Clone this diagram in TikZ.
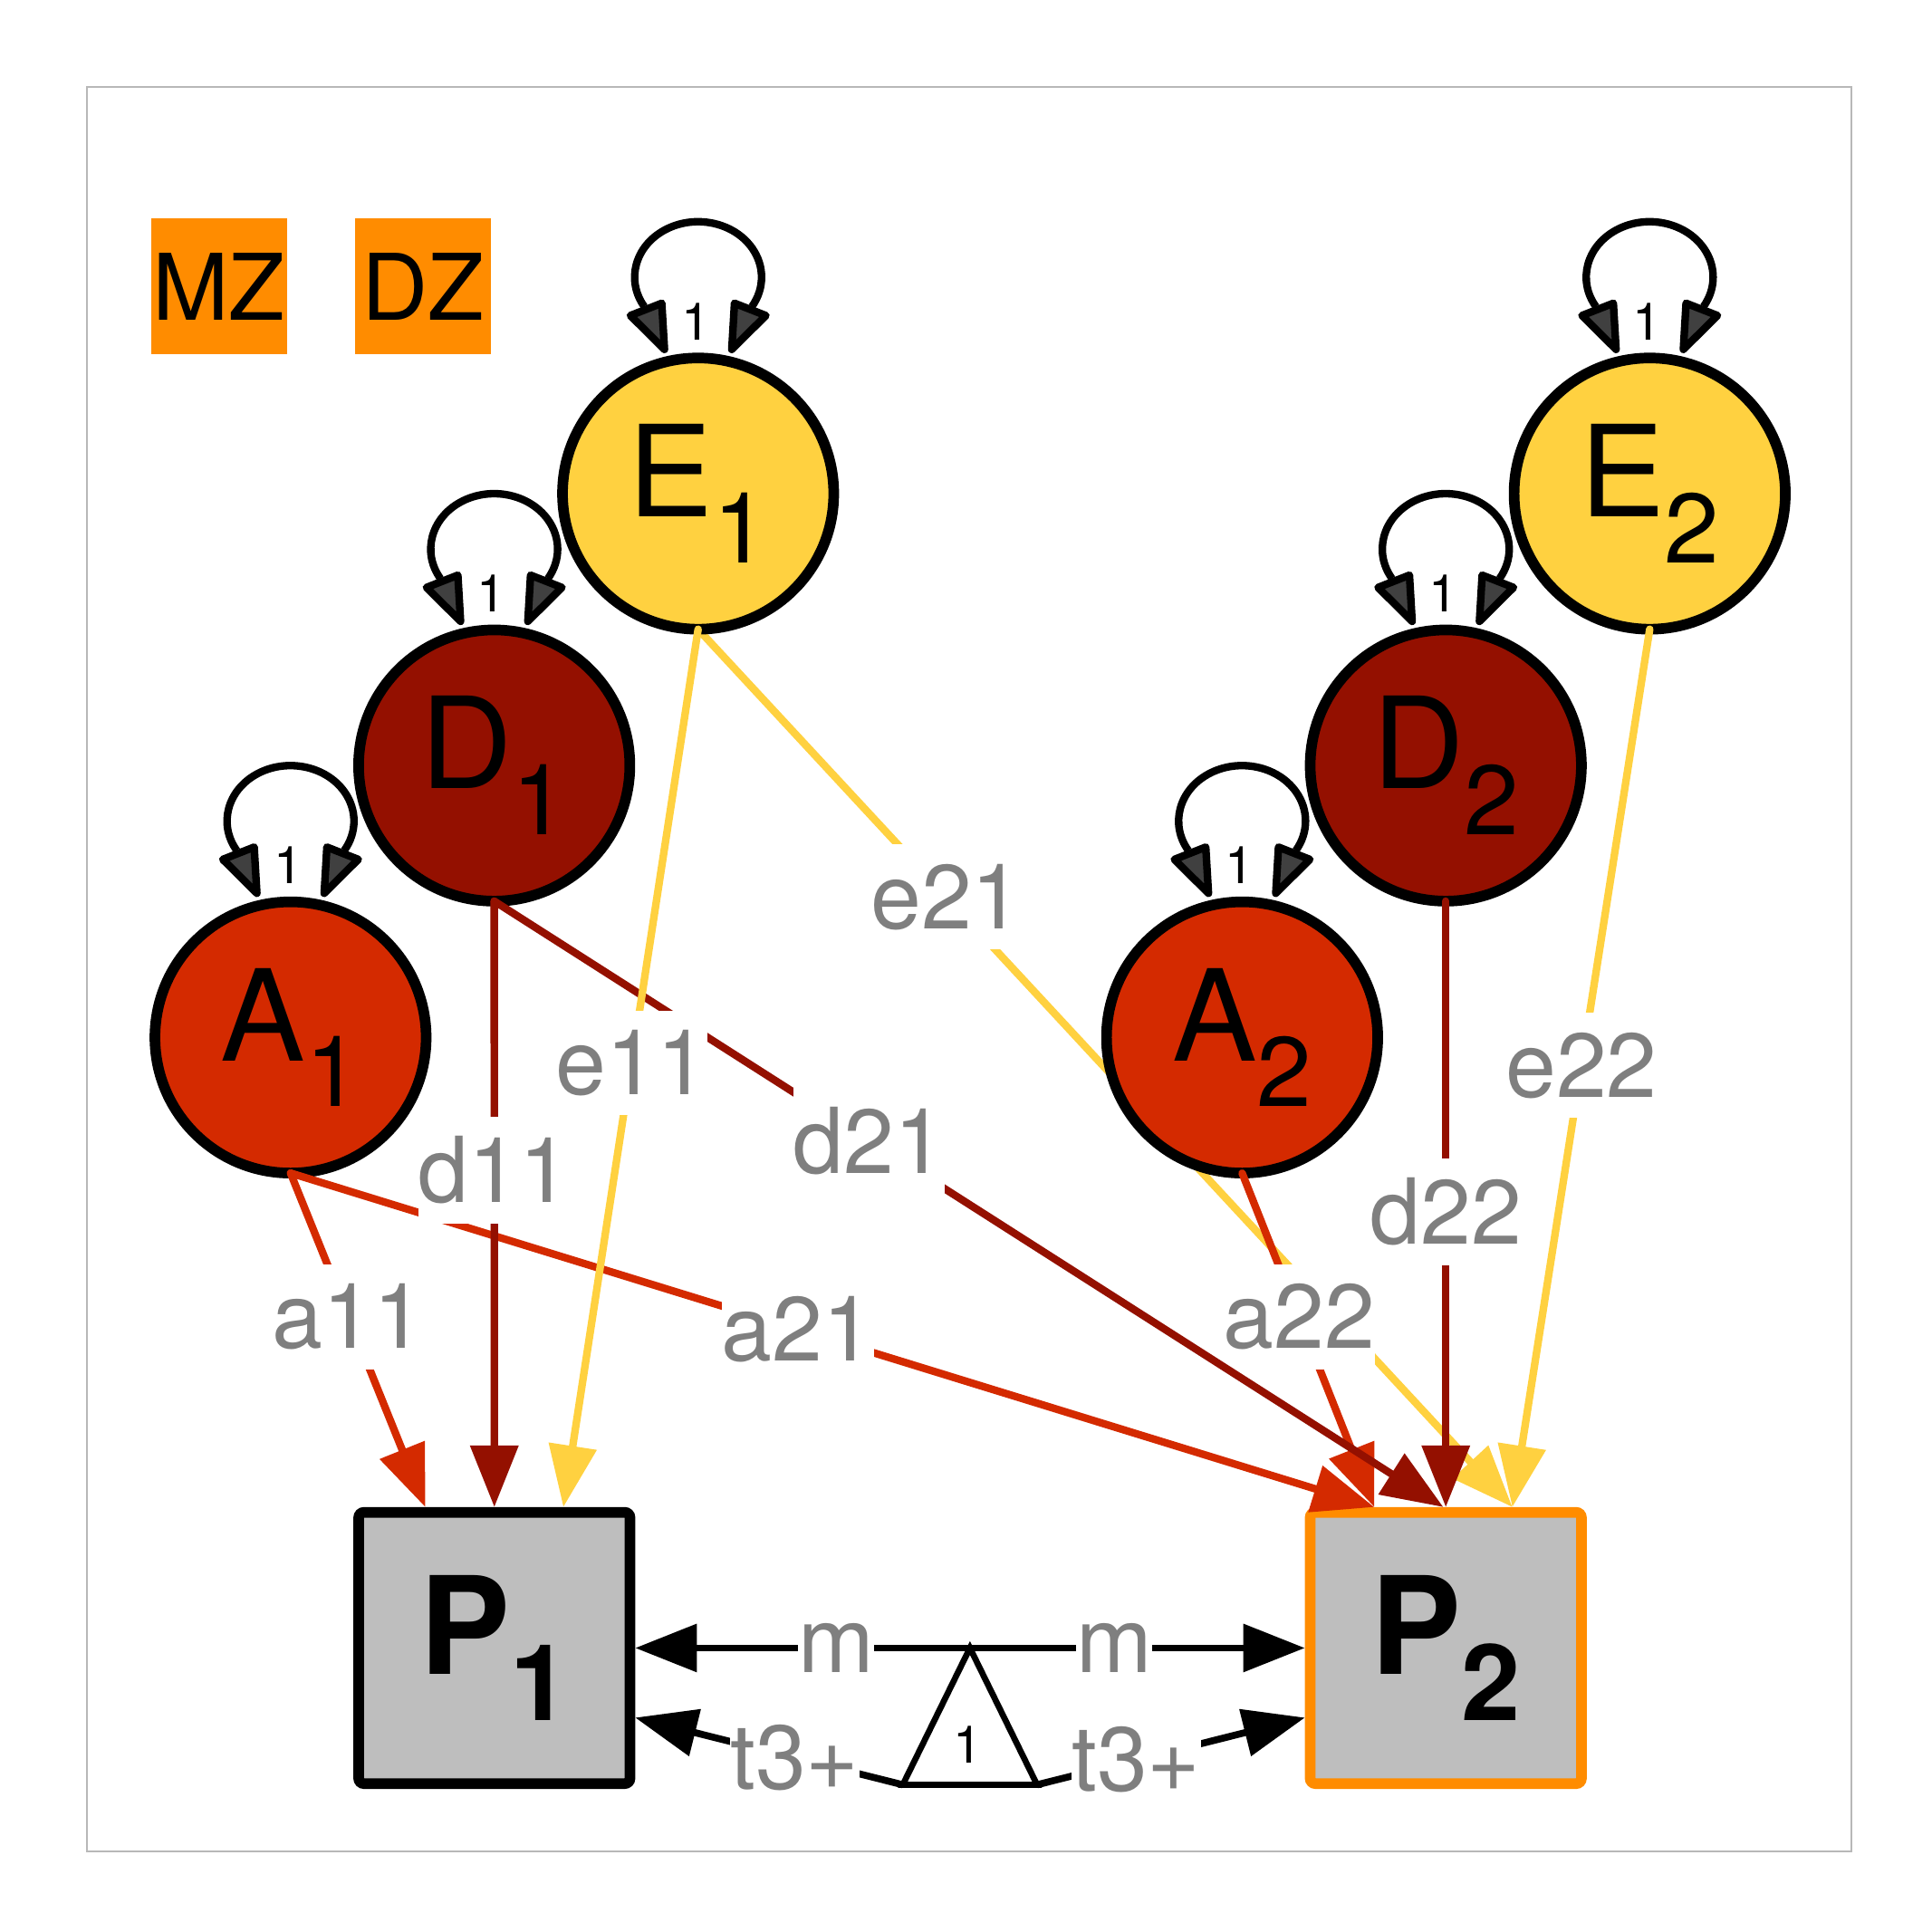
\documentclass[tikz,border=0pt]{standalone}
\usepackage{fontspec}
\setmainfont{TeX Gyre Heros}
\usetikzlibrary{arrows.meta}
\definecolor{Acol}{HTML}{D42A00}
\definecolor{Dcol}{HTML}{941000}
\definecolor{Ecol}{HTML}{FFD140}
\definecolor{orng}{HTML}{FF8C00}
\definecolor{boxgray}{HTML}{BEBEBE}
\definecolor{labgray}{HTML}{7F7F7F}
\definecolor{tipgray}{HTML}{404040}
\definecolor{framegray}{HTML}{B8B8B8}
\pgfdeclarelayer{bg}
\pgfsetlayers{bg,main}
\newcommand{\latlab}[2]{{\fontsize{29.3}{30}\selectfont #1\raisebox{-10.64pt}{\fontsize{22.8}{23}\selectfont #2}}}
\newcommand{\oblab}[2]{{\bfseries\fontsize{31.3}{32}\selectfont #1\raisebox{-10.5pt}{\fontsize{24.5}{25}\selectfont #2}}}
\newcommand{\mySelfLoop}[1]{%
  \draw[loopline] ([shift={(-43.7,151.8)}]#1.center)
    arc[start angle=212,end angle=-32,x radius=51.5,y radius=45];
  \filldraw[loophead] ([shift={(-55,144.5)}]#1.center) -- ([shift={(-29.5,154.5)}]#1.center)
    -- ([shift={(-27.3,117)}]#1.center) -- cycle;
  \filldraw[loophead] ([shift={(55,144.5)}]#1.center) -- ([shift={(29.5,154.5)}]#1.center)
    -- ([shift={(27.3,117)}]#1.center) -- cycle;
  \node[looplab] (#1one) at ([shift={(-2,139.5)}]#1.center) {1};}
\begin{document}
\begin{tikzpicture}[x=0.01cm,y=0.01cm,
  latent/.style={circle,draw=black,line width=2.45pt,minimum size=2.2cm,inner sep=0pt,outer sep=0pt},
  manifest/.style={rectangle,draw=black,fill=boxgray,line width=2.45pt,minimum size=2.2cm,inner sep=0pt,rounded corners=1.2pt},
  grp/.style={rectangle,fill=orng,minimum size=1.105cm,inner sep=0pt,font=\fontsize{21.2}{22}\selectfont},
  causal/.style={line width=1.74pt,line cap=round,-{Triangle[length=0.5cm,width=0.38cm]}},
  elab/.style={fill=white,text=labgray,font=\fontsize{21}{22}\selectfont,inner xsep=0pt,inner ysep=4.5pt},
  loopline/.style={draw=black,line width=1.74pt},
  loophead/.style={draw=black,fill=tipgray,line width=1.74pt,line join=round},
  looplab/.style={font=\fontsize{12}{12}\selectfont,inner sep=0pt},
  meanpath/.style={line width=1.6pt,-{Triangle[length=0.5cm,width=0.38cm]}},
  meantri/.style={line width=1.4pt},
  outerframe/.style={draw=framegray,line width=0.45pt}]
\useasboundingbox (0,0) rectangle (1568,1568);
\draw[outerframe] (70.5,65.4) rectangle (1502.6,1497.5);

\node[grp] (MZ) at (177.7,1335.5) {MZ};
\node[grp] (DZ) at (343.2,1335.5) {DZ};

\node[latent,fill=Acol] (A1) at (235.8,726) {\latlab{A}{1}};
\node[latent,fill=Dcol] (D1) at (401.1,946.7) {\latlab{D}{1}};
\node[latent,fill=Ecol] (E1) at (566.6,1167.4) {\latlab{E}{1}};
\node[latent,fill=Acol] (A2) at (1008.1,726) {\latlab{A}{2}};
\node[latent,fill=Dcol] (D2) at (1173.4,946.7) {\latlab{D}{2}};
\node[latent,fill=Ecol] (E2) at (1338.9,1167.4) {\latlab{E}{2}};

\node[manifest] (P1) at (401.2,230.5) {\oblab{P}{1}};
\node[manifest,draw=orng] (P2) at (1173.4,230.5) {\oblab{P}{2}};

\mySelfLoop{A1}
\mySelfLoop{D1}
\mySelfLoop{E1}
\mySelfLoop{A2}
\mySelfLoop{D2}
\mySelfLoop{E2}

\begin{pgfonlayer}{bg}
\draw[causal,Ecol] (E1.south) -- node[elab,pos=0.305]{e21} ([xshift=0.54cm]P2.north);
\end{pgfonlayer}
\draw[causal,Acol] (A1.south) -- node[elab,pos=0.43]{a11} ([xshift=-0.56cm]P1.north);
\draw[causal,Acol] (A1.south) -- node[elab,pos=0.468]{a21} ([xshift=-0.58cm]P2.north);
\draw[causal,Acol] (A2.south) -- node[elab,pos=0.43]{a22} ([xshift=-0.58cm]P2.north);
\draw[causal,Dcol] (D1.south) -- node[elab,pos=0.444]{d11} (P1.north);
\draw[causal,Dcol] (D1.south) -- node[elab,pos=0.395]{d21} ([xshift=-0.02cm]P2.north);
\draw[causal,Dcol] (D2.south) -- node[elab,pos=0.513]{d22} (P2.north);
\draw[causal,Ecol] (E1.south) -- node[elab,pos=0.494]{e11} ([xshift=0.56cm]P1.north);
\draw[causal,Ecol] (E2.south) -- node[elab,pos=0.497]{e22} ([xshift=0.54cm]P2.north);

\coordinate (mtop) at (787.2,230.5);
\coordinate (mbl) at (732.7,119.5);
\coordinate (mbr) at (841.7,119.5);
\draw[meantri] (mtop) -- (mbl) -- (mbr) -- cycle;
\node[looplab] (mone) at (785.5,152) {1};
\draw[meanpath] (mtop) -- node[elab,pos=0.40]{m} (P1.east);
\draw[meanpath] (mtop) -- node[elab,pos=0.43]{m} (P2.west);
\draw[meanpath] (mbl) -- node[elab,pos=0.404]{t3+} ([yshift=-0.565cm]P1.east);
\draw[meanpath] (mbr) -- node[elab,pos=0.37]{t3+} ([yshift=-0.565cm]P2.west);
\end{tikzpicture}
\end{document}
